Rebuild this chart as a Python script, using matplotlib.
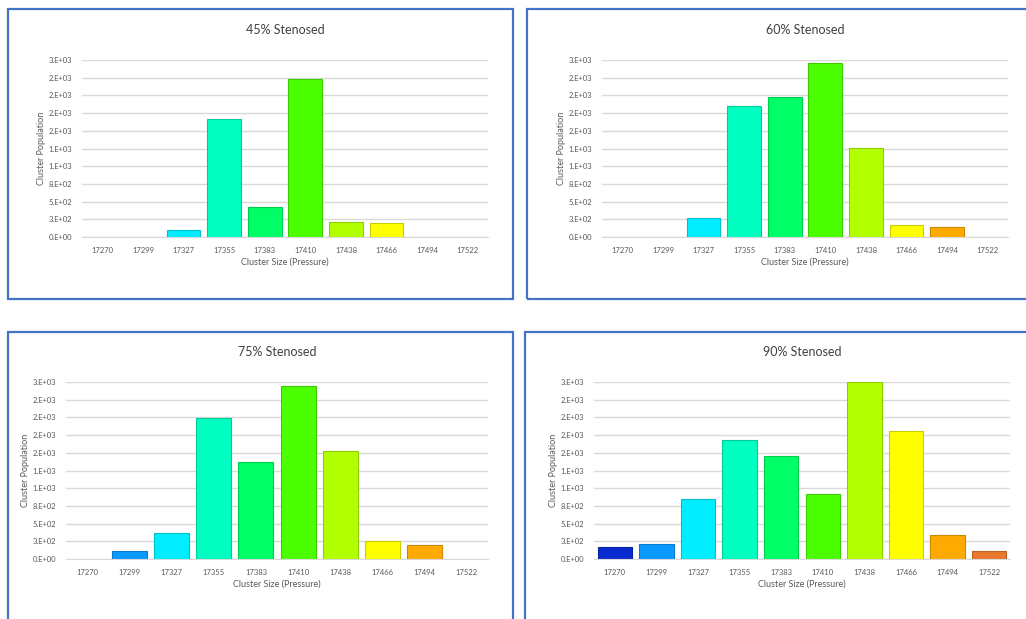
import numpy as np
import matplotlib
matplotlib.use("Agg")
import matplotlib.pyplot as plt
from matplotlib.patches import Rectangle
from matplotlib.ticker import FuncFormatter, MultipleLocator

plt.rcParams['font.family'] = ['Lato', 'DejaVu Sans']

# data
cluster_sizes = ['17270', '17299', '17327', '17355', '17383', '17410', '17438', '17466', '17494', '17522']
bar_colors = ['#0A2BD0', '#0A9AFF', '#00EEFF', '#00FFC0', '#00FF66', '#4CFF00',
              '#B2FF00', '#FFFF00', '#FFAA00', '#E8782E']
titles = ['45% Stenosed', '60% Stenosed', '75% Stenosed', '90% Stenosed']
pop_45 = [0, 0, 100, 1667, 424, 2232, 212, 198, 0, 0]
pop_60 = [0, 0, 268, 1850, 1977, 2458, 1257, 170, 141, 0]
pop_75 = [0, 113, 367, 1992, 1370, 2444, 1525, 254, 198, 0]
pop_90 = [165, 217, 843, 1681, 1455, 918, 2495, 1813, 339, 108]

W, H = 1026, 619
fig = plt.figure(figsize=(W / 100, H / 100), dpi=100)
fig.patch.set_facecolor('white')


def excel_sci(v, pos):
    # mimic Excel "0.E+00" number format (round half up)
    if v <= 0:
        return '0.E+00'
    e = int(np.floor(np.log10(v)))
    m = int(np.floor(v / 10 ** e + 0.5))
    if m == 10:
        m, e = 1, e + 1
    return '%d.E+%02d' % (m, e)


def darker(c, f=0.8):
    r, g, b = matplotlib.colors.to_rgb(c)
    return (r * f, g * f, b * f)


# panel boxes (x0, y0, x1, y1) and plot areas in pixels
boxes = [(8, 9, 513, 299), (527, 9, 1030, 299), (8, 332, 513, 625), (525, 332, 1030, 625)]
plot_areas = [(82, 60, 488, 237), (602, 60, 1008, 237), (66, 382, 488, 559), (594, 382, 1010, 559)]
populations = [pop_45, pop_60, pop_75, pop_90]

for box, area, title, pop in zip(boxes, plot_areas, titles, populations):
    bx0, by0, bx1, by1 = box
    fig.patches.append(Rectangle((bx0 / W, 1 - by1 / H), (bx1 - bx0) / W, (by1 - by0) / H,
                                 transform=fig.transFigure, fill=False,
                                 edgecolor='#4472C4', linewidth=1.6))
    x0, y0, x1, y1 = area
    ax = fig.add_axes([x0 / W, 1 - y1 / H, (x1 - x0) / W, (y1 - y0) / H])
    xs = np.arange(len(cluster_sizes))
    # empty clusters get no outline
    widths = [0.8 if v > 0 else 0 for v in pop]
    ax.bar(xs, pop, width=0.83, color=bar_colors,
           edgecolor=[darker(c) for c in bar_colors], linewidth=widths, zorder=3)
    ax.set_xlim(-0.5, len(cluster_sizes) - 0.5)
    ax.set_ylim(0, 2500)
    ax.yaxis.set_major_locator(MultipleLocator(250))
    ax.yaxis.set_major_formatter(FuncFormatter(excel_sci))
    ax.set_xticks(xs)
    ax.set_xticklabels(cluster_sizes)
    ax.grid(axis='y', color='#D9D9D9', linewidth=1.0, zorder=0)
    for s in ['top', 'right', 'left']:
        ax.spines[s].set_visible(False)
    ax.spines['bottom'].set_color('#D9D9D9')
    ax.spines['bottom'].set_zorder(4)
    ax.tick_params(length=0, labelsize=5.5, labelcolor='#595959', pad=7)
    ax.set_xlabel('Cluster Size (Pressure)', fontsize=6.5, color='#595959', labelpad=3)
    ax.set_ylabel('Cluster Population', fontsize=6.5, color='#595959', labelpad=2)
    ax.set_title(title, fontsize=9, color='#404040', pad=19)

fig.savefig('out.png', dpi=100)
